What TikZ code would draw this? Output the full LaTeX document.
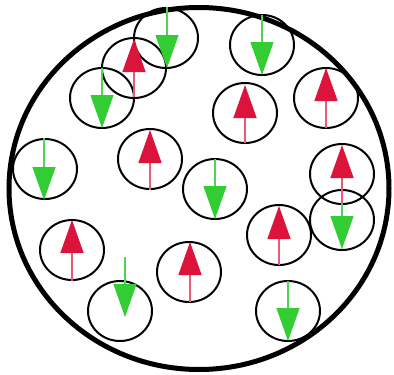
\documentclass[tikz,border=0pt]{standalone}
\usetikzlibrary{arrows.meta}
\definecolor{spinred}{HTML}{DC143C}
\definecolor{spingreen}{HTML}{32CD32}

\begin{document}
\begin{tikzpicture}[
    x=1pt, y=-1pt,
    grain/.style={black, line width=2pt},
    spinup/.style={spinred!70, line width=1.5pt,
      -{Triangle[length=33pt,width=23pt,color=spinred]}},
    spindown/.style={spingreen!85, line width=1.2pt,
      -{Triangle[length=33pt,width=23pt,color=spingreen]}}]

  \useasboundingbox (0,0) rectangle (394,375);

  % the domain
  \draw[black,line width=5pt] (199,188.5) ellipse [x radius=190, y radius=181];

  % grains
  \draw[grain] (166,38)  ellipse [x radius=32, y radius=30];
  \draw[grain] (134,68)  ellipse [x radius=32, y radius=30];
  \draw[grain] (102,98)  ellipse [x radius=32, y radius=30];
  \draw[grain] (45,169)  ellipse [x radius=32, y radius=30];
  \draw[grain] (150,159) ellipse [x radius=32, y radius=30];
  \draw[grain] (262,45)  ellipse [x radius=32, y radius=30];
  \draw[grain] (245,113) ellipse [x radius=32, y radius=30];
  \draw[grain] (326,98)  ellipse [x radius=32, y radius=30];
  \draw[grain] (342,174) ellipse [x radius=32, y radius=30];
  \draw[grain] (342,220) ellipse [x radius=32, y radius=30];
  \draw[grain] (215,189) ellipse [x radius=32, y radius=30];
  \draw[grain] (279,235) ellipse [x radius=32, y radius=30];
  \draw[grain] (288,311) ellipse [x radius=32, y radius=30];
  \draw[grain] (189,272) ellipse [x radius=32, y radius=30];
  \draw[grain] (72,250)  ellipse [x radius=32, y radius=30];
  \draw[grain] (120,311) ellipse [x radius=32, y radius=30];

  % spins pointing down
  \draw[spindown] (167,7)   -- (167,68);
  \draw[spindown] (102,68)  -- (102,128);
  \draw[spindown] (44,138)  -- (44,200);
  \draw[spindown] (262,15)  -- (262,75);
  \draw[spindown] (215,159) -- (215,219);
  \draw[spindown] (342,189) -- (342,249);
  \draw[spindown] (288,281) -- (288,341);
  \draw[spindown] (125,257) -- (125,317);

  % spins pointing up
  \draw[spinup] (134,97)  -- (134,39);
  \draw[spinup] (150,190) -- (150,130);
  \draw[spinup] (245,143) -- (245,85);
  \draw[spinup] (326,128) -- (326,68);
  \draw[spinup] (342,204) -- (342,145);
  \draw[spinup] (279,265) -- (279,206);
  \draw[spinup] (190,302) -- (190,242);
  \draw[spinup] (72,281)  -- (72,220);
\end{tikzpicture}
\end{document}
